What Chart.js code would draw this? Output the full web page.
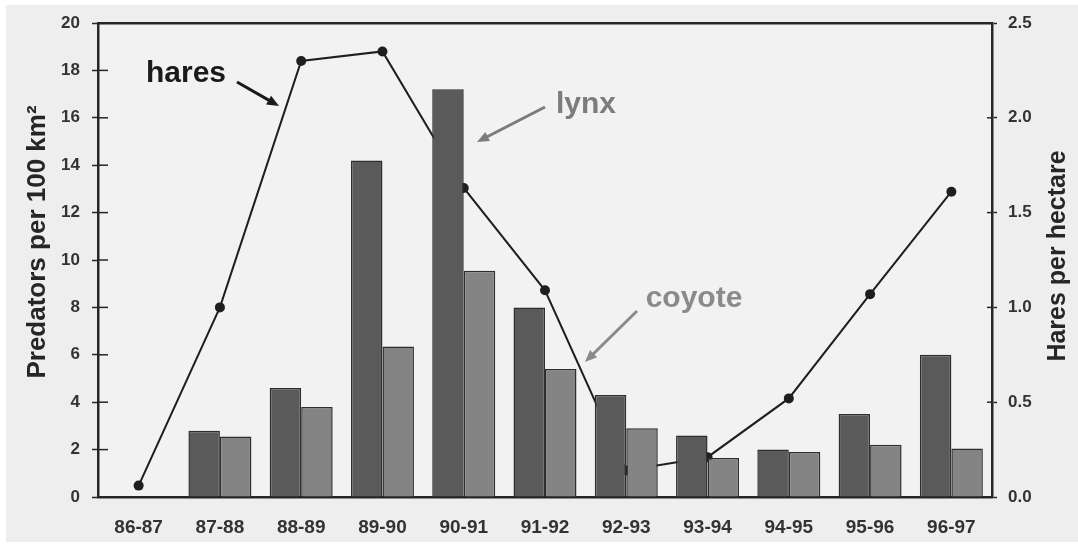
<!DOCTYPE html>
<html>
<head>
<meta charset="utf-8">
<script src="https://cdn.jsdelivr.net/npm/chart.js@4.4.1/dist/chart.umd.min.js"></script>
<style>
    html, body { margin: 0; padding: 0; background: #ffffff; }
    #wrap { width: 1078px; height: 547px; }
</style>
</head>
<body>
<div id="wrap"><canvas id="predatorChart" width="1078" height="547"></canvas></div>
<script>
// Data
const seasons = ['86-87', '87-88', '88-89', '89-90', '90-91', '91-92', '92-93', '93-94', '94-95', '95-96', '96-97'];
const lynxDensity = [null, 2.8, 4.6, 14.2, 17.2, 8.0, 4.3, 2.6, 2.0, 3.5, 6.0];
const coyoteDensity = [null, 2.55, 3.8, 6.35, 9.55, 5.4, 2.9, 1.65, 1.9, 2.2, 2.05];
const hareDensity = [0.06, 1.0, 2.30, 2.35, 1.63, 1.09, 0.14, 0.21, 0.52, 1.07, 1.61];
const predatorTicks = [0, 2, 4, 6, 8, 10, 12, 14, 16, 18, 20];
const hareTicks = [0, 0.5, 1.0, 1.5, 2.0, 2.5];

const FONT = '"Liberation Sans", Arial, sans-serif';
const INK = '#262626';

// Page background, axis titles, inward tick marks, labels with arrows
const decorPlugin = {
    id: 'decor',
    beforeDraw(chart) {
        const ctx = chart.ctx;
        ctx.save();
        ctx.fillStyle = '#ffffff';
        ctx.fillRect(0, 0, chart.width, chart.height);
        ctx.fillStyle = '#eeeeee';
        ctx.fillRect(6, 5, chart.width - 6, chart.height - 10);
        ctx.fillStyle = '#f2f2f2';
        const a = chart.chartArea;
        ctx.fillRect(a.left, a.top, a.right - a.left, a.bottom - a.top);
        ctx.restore();
    },
    afterDraw(chart) {
        const ctx = chart.ctx;
        const a = chart.chartArea;
        ctx.save();

        // inward halves of the axis ticks
        ctx.strokeStyle = INK;
        ctx.lineWidth = 1.5;
        const yL = chart.scales.y;
        yL.ticks.forEach(t => {
            const py = yL.getPixelForValue(t.value);
            ctx.beginPath();
            ctx.moveTo(a.left, py);
            ctx.lineTo(a.left + 10, py);
            ctx.stroke();
        });
        const yR = chart.scales.y2;
        yR.ticks.forEach(t => {
            const py = yR.getPixelForValue(t.value);
            ctx.beginPath();
            ctx.moveTo(a.right, py);
            ctx.lineTo(a.right - 5, py);
            ctx.stroke();
        });

        // axis titles
        ctx.fillStyle = INK;
        ctx.textAlign = 'center';
        ctx.textBaseline = 'middle';
        ctx.font = 'bold 26px ' + FONT;
        ctx.save();
        ctx.translate(38, 242);
        ctx.rotate(-Math.PI / 2);
        ctx.fillText('Predators per 100 km²', 0, 0);
        ctx.restore();
        ctx.font = 'bold 25px ' + FONT;
        ctx.save();
        ctx.translate(1058, 256);
        ctx.rotate(-Math.PI / 2);
        ctx.fillText('Hares per hectare', 0, 0);
        ctx.restore();

        // annotations
        drawLabel(ctx, 'hares', 186, 82, '#1a1a1a');
        drawArrow(ctx, 237, 82, 279, 106, '#1a1a1a');
        drawLabel(ctx, 'lynx', 586, 113, '#7c7c7c');
        drawArrow(ctx, 545, 107, 477, 142, '#7c7c7c');
        drawLabel(ctx, 'coyote', 694, 307, '#8a8a8a');
        drawArrow(ctx, 637, 311, 585, 362, '#8a8a8a');

        ctx.restore();
    }
};

function drawLabel(ctx, text, x, y, color) {
    ctx.fillStyle = color;
    ctx.font = 'bold 30px ' + FONT;
    ctx.textAlign = 'center';
    ctx.textBaseline = 'alphabetic';
    ctx.fillText(text, x, y);
}

function drawArrow(ctx, x1, y1, x2, y2, color) {
    const ang = Math.atan2(y2 - y1, x2 - x1);
    const head = 13;
    ctx.strokeStyle = color;
    ctx.fillStyle = color;
    ctx.lineWidth = 3;
    ctx.beginPath();
    ctx.moveTo(x1, y1);
    ctx.lineTo(x2 - Math.cos(ang) * head * 0.8, y2 - Math.sin(ang) * head * 0.8);
    ctx.stroke();
    ctx.beginPath();
    ctx.moveTo(x2, y2);
    ctx.lineTo(x2 - head * Math.cos(ang - 0.4), y2 - head * Math.sin(ang - 0.4));
    ctx.lineTo(x2 - head * Math.cos(ang + 0.4), y2 - head * Math.sin(ang + 0.4));
    ctx.closePath();
    ctx.fill();
}

const ctx = document.getElementById('predatorChart');

new Chart(ctx, {
    type: 'bar',
    data: {
        labels: seasons,
        datasets: [
            {
                type: 'line',
                label: 'hares',
                data: hareDensity,
                yAxisID: 'y2',
                order: 3,
                borderColor: '#1e1e1e',
                borderWidth: 2,
                tension: 0,
                pointRadius: 5,
                pointBackgroundColor: '#1e1e1e',
                pointBorderColor: '#1e1e1e',
                pointBorderWidth: 0
            },
            {
                label: 'lynx',
                data: lynxDensity,
                yAxisID: 'y',
                order: 1,
                backgroundColor: '#5a5a5a',
                borderColor: '#2e2e2e',
                borderWidth: 1.5,
                categoryPercentage: 0.775,
                barPercentage: 1.0
            },
            {
                label: 'coyote',
                data: coyoteDensity,
                yAxisID: 'y',
                order: 2,
                backgroundColor: '#848484',
                borderColor: '#2e2e2e',
                borderWidth: 1.5,
                categoryPercentage: 0.775,
                barPercentage: 1.0
            }
        ]
    },
    options: {
        responsive: false,
        animation: false,
        devicePixelRatio: 1,
        layout: { padding: 0 },
        plugins: {
            legend: { display: false },
            tooltip: { enabled: false }
        },
        scales: {
            x: {
                position: 'bottom',
                grid: { display: false },
                border: { display: true, color: INK, width: 2.5 },
                ticks: {
                    color: '#333333',
                    font: { family: FONT, size: 19, weight: 'bold' },
                    padding: 11,
                    maxRotation: 0,
                    autoSkip: false
                },
                afterFit(scale) { scale.height = 50; }
            },
            xTop: {
                position: 'top',
                labels: seasons,
                grid: { display: false },
                border: { display: true, color: INK, width: 2.5 },
                ticks: { display: false },
                afterFit(scale) { scale.height = 23; }
            },
            y: {
                position: 'left',
                min: 0,
                max: 20,
                afterBuildTicks(scale) {
                    scale.ticks = predatorTicks.map(v => ({ value: v }));
                },
                grid: {
                    drawOnChartArea: false,
                    drawTicks: true,
                    tickLength: 6,
                    tickWidth: 1.5,
                    tickColor: INK
                },
                border: { display: true, color: INK, width: 2.5 },
                ticks: {
                    color: '#333333',
                    font: { family: FONT, size: 17, weight: 'bold' },
                    padding: 12
                },
                afterFit(scale) { scale.width = 98; }
            },
            y2: {
                position: 'right',
                min: 0,
                max: 2.5,
                afterBuildTicks(scale) {
                    scale.ticks = hareTicks.map(v => ({ value: v }));
                },
                grid: {
                    drawOnChartArea: false,
                    drawTicks: true,
                    tickLength: 5,
                    tickWidth: 1.5,
                    tickColor: INK
                },
                border: { display: true, color: INK, width: 2.5 },
                ticks: {
                    color: '#333333',
                    font: { family: FONT, size: 17, weight: 'bold' },
                    padding: 11,
                    callback: v => Number(v).toFixed(1)
                },
                afterFit(scale) { scale.width = 86; }
            }
        }
    },
    plugins: [decorPlugin]
});
</script>
</body>
</html>
